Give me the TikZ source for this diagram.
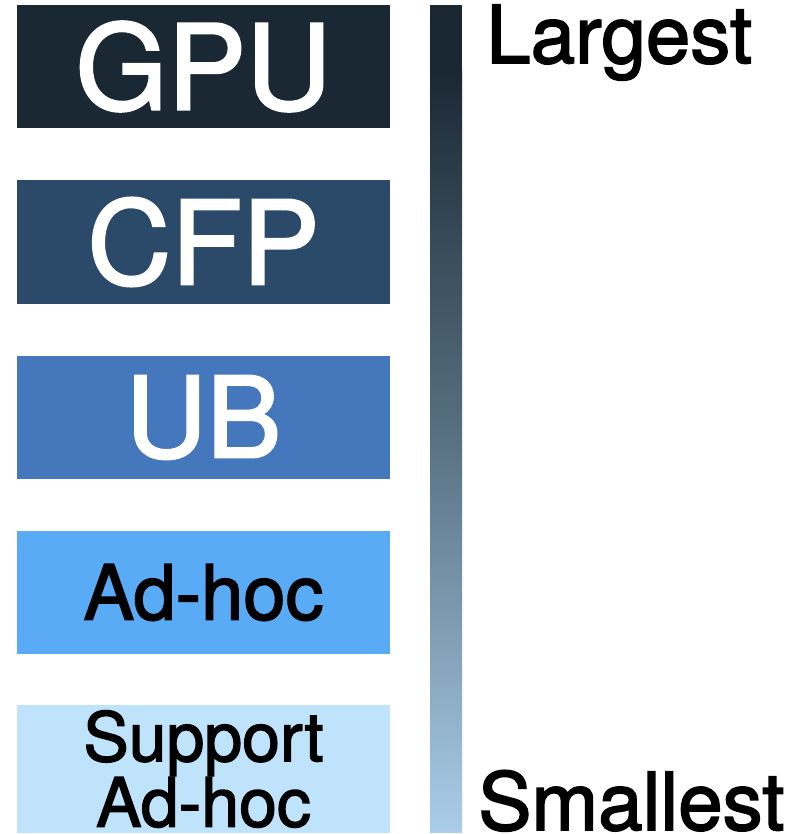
\documentclass[tikz,border=0pt]{standalone}
\usepackage{fontspec}
\setmainfont{TeX Gyre Heros}
\newfontfamily\medfont[BoldFont=TeX Gyre Heros, BoldFeatures={FakeBold=2}]{TeX Gyre Heros}
\definecolor{gpucol}{HTML}{192833}
\definecolor{cfpcol}{HTML}{2B4A6A}
\definecolor{ubcol}{HTML}{4477BB}
\definecolor{adhcol}{HTML}{5AABF5}
\definecolor{supcol}{HTML}{C0E3FC}
\definecolor{bartop}{HTML}{1A2833}
\definecolor{barmid}{HTML}{5A7485}
\definecolor{barbot}{HTML}{AACDE8}
\tikzset{
  lvl/.style={rectangle, inner sep=0pt, minimum width=373pt, minimum height=123pt, align=center},
  endlbl/.style={inner sep=0pt, anchor=base west, font=\medfont\bfseries\fontsize{80}{80}\selectfont}
}
\begin{document}
\begin{tikzpicture}[x=1pt,y=-1pt]
\useasboundingbox[fill=white] (0,0) rectangle (803,834);
\node[lvl, fill=gpucol, text=white, font=\medfont\bfseries\fontsize{118}{118}\selectfont] (lvl0) at (203.5,66.5){GPU};
\node[lvl, fill=cfpcol, text=white, font=\medfont\bfseries\fontsize{116}{116}\selectfont] (lvl1) at (203.5,242){CFP};
\node[lvl, fill=ubcol, text=white, font=\medfont\bfseries\fontsize{112}{112}\selectfont] (lvl2) at (203.5,417.5){UB};
\node[lvl, fill=adhcol, text=black, font=\medfont\bfseries\fontsize{76}{76}\selectfont] (lvl3) at (203.5,592.5){Ad-hoc};
\node[lvl, fill=supcol, text=black, minimum height=128pt, font=\medfont\bfseries\fontsize{68}{62}\selectfont] (lvl4) at (203.5,769){Support\\Ad-hoc};
% size scale
\fill[bartop] (430,5) rectangle (462,70);
\shade[top color=bartop, bottom color=barbot, middle color=barmid] (430,70) rectangle (462,832);
\node[endlbl] (big) at (486,63){Largest};
\node[endlbl] (small) at (478,830){Smallest};
\end{tikzpicture}
\end{document}
